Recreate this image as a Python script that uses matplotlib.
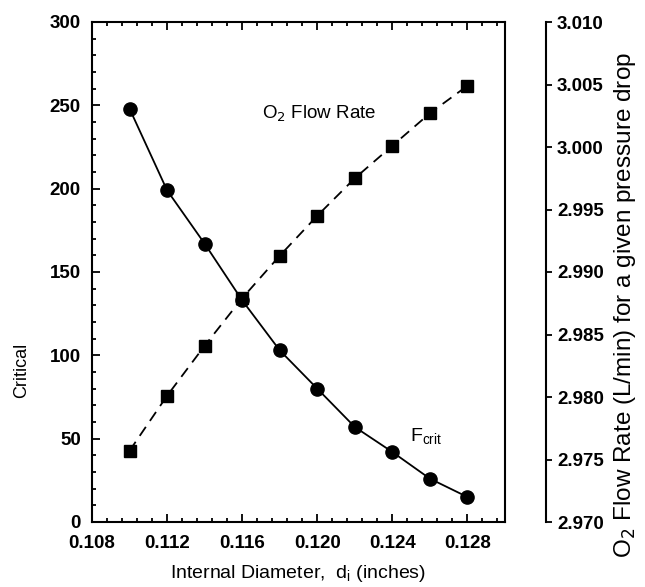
import matplotlib.pyplot as plt
from matplotlib.ticker import MultipleLocator, FormatStrFormatter

# data
diameter = [0.110, 0.112, 0.114, 0.116, 0.118, 0.120, 0.122, 0.124, 0.126, 0.128]
f_crit = [248, 199, 167, 133, 103, 80, 57, 42, 26, 15]
o2_flow = [2.9757, 2.9801, 2.9841, 2.9879, 2.9913, 2.9945, 2.9975, 3.0001, 3.0027, 3.0049]

x_ticks = [0.108, 0.112, 0.116, 0.120, 0.124, 0.128]
y_ticks = [0, 50, 100, 150, 200, 250, 300]
y2_ticks = [2.970, 2.975, 2.980, 2.985, 2.990, 2.995, 3.000, 3.005, 3.010]

plt.rcParams['font.family'] = ['Liberation Sans', 'DejaVu Sans']

fig = plt.figure(figsize=(6.45, 5.87), dpi=100)
ax = fig.add_axes([92/645, 65/587, 413/645, 500/587])

ax.plot(diameter, f_crit, 'k-', marker='o', markersize=9.5, linewidth=1.3)
ax.set_xlim(0.108, 0.130)
ax.set_ylim(0, 300)
ax.set_xticks(x_ticks)
ax.set_yticks(y_ticks)
ax.xaxis.set_major_formatter(FormatStrFormatter('%.3f'))
ax.xaxis.set_minor_locator(MultipleLocator(0.0008))
ax.yaxis.set_minor_locator(MultipleLocator(10))
ax.tick_params(which='both', direction='in', top=True, right=True, width=1.3)
ax.tick_params(which='major', length=6, labelsize=13.5)
ax.tick_params(which='minor', length=3)
ax.tick_params(axis='x', pad=9)
ax.tick_params(axis='y', pad=8)
for lab in ax.get_xticklabels() + ax.get_yticklabels():
    lab.set_fontweight('bold')
for sp in ax.spines.values():
    sp.set_linewidth(1.5)

ax2 = ax.twinx()
ax2.plot(diameter, o2_flow, 'k--', marker='s', markersize=8, linewidth=1.3,
         dashes=(6, 4))
ax2.set_ylim(2.970, 3.010)
ax2.set_yticks(y2_ticks)
ax2.yaxis.set_major_formatter(FormatStrFormatter('%.3f'))
ax2.spines['right'].set_position(('outward', 29.5))
ax2.spines['right'].set_linewidth(1.5)
for s in ['top', 'left', 'bottom']:
    ax2.spines[s].set_visible(False)
ax2.tick_params(axis='y', direction='out', length=4.5, width=1.3, labelsize=13.5, pad=3.5)
for lab in ax2.get_yticklabels():
    lab.set_fontweight('bold')

ax.text(0.11707, 245, 'O$_2$ Flow Rate', fontsize=13.5, va='center')
ax.text(0.12496, 51, 'F$_{\\mathregular{crit}}$', fontsize=14, va='center')

fig.text(22/645, 1 - 370/587, 'Critical', rotation=90, fontsize=13,
         ha='center', va='center')
fig.text(625/645, 1 - 305/587, 'O$_2$ Flow Rate (L/min) for a given pressure drop',
         rotation=90, fontsize=17.5, ha='center', va='center')
fig.text(298/645, 1 - 573/587, 'Internal Diameter,  d$_\\mathregular{i}$ (inches)',
         fontsize=14, ha='center', va='center')

fig.savefig('out.png', dpi=100)
